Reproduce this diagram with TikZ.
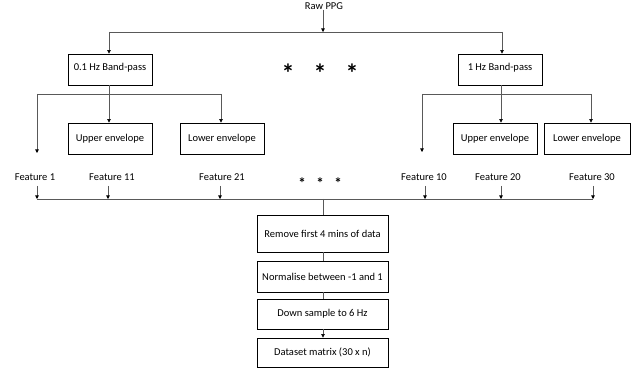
\documentclass[tikz,border=0pt]{standalone}
\usepackage{fontspec}
\setmainfont{Carlito}
\usetikzlibrary{arrows.meta,calc}
\begin{document}
\begin{tikzpicture}[x=1pt,y=-1pt,
  font=\fontsize{10.5}{12}\selectfont,
  box/.style={draw=black, line width=0.8pt, minimum width=84pt, minimum height=31pt, inner sep=1pt},
  pbox/.style={draw=black, line width=0.8pt, minimum width=131pt, inner sep=1pt},
  ln/.style={draw=gray!70!black, line width=0.6pt},
  arr/.style={ln, -{Triangle[length=3.5pt,width=3.5pt,fill=black,color=black]}},
  lbl/.style={inner sep=0pt},
  bigstar/.style={inner sep=0pt, font=\fontsize{26}{26}\selectfont\bfseries},
  smallstar/.style={inner sep=0pt, font=\fontsize{15}{15}\selectfont\bfseries}]
\useasboundingbox (0,0) rectangle (640,374);

% top
\node[lbl] (raw) at (324,6) {Raw PPG};
\coordinate (top) at (323,32);
\coordinate (topL) at (109,32);
\coordinate (topR) at (502,32);
\draw[arr] (raw.south -| top) -- (top);
\draw[ln] (topL) -- (topR);

\node[box] (bp1) at (110,69.5) {\raisebox{5pt}{0.1 Hz Band-pass}};
\node[box] (bp2) at (500,69.5) {\raisebox{5pt}{1 Hz Band-pass}};
\draw[arr] (topL) -- (topL |- bp1.north);
\draw[arr] (topR) -- (topR |- bp2.north);

\node[bigstar] (s1) at (288,73) {*};
\node[bigstar] (s2) at (320,73) {*};
\node[bigstar] (s3) at (352,73) {*};

% second level left
\coordinate (jL) at (109,94);
\coordinate (jLa) at (37,94);
\coordinate (jLb) at (221,94);
\node[box] (ue1) at (110,138.5) {Upper envelope};
\node[box] (le1) at (222,138.5) {Lower envelope};
\coordinate (f1end) at (37,153);
\draw[ln] (bp1.south -| jL) -- (jL);
\draw[ln] (jLa) -- (jLb);
\draw[arr] (jLa) -- (f1end);
\draw[arr] (jL) -- (jL |- ue1.north);
\draw[arr] (jLb) -- (jLb |- le1.north);

% second level right
\coordinate (jR) at (501,94);
\coordinate (jRa) at (422,94);
\coordinate (jRb) at (591,94);
\node[box] (ue2) at (495,138.5) {Upper envelope};
\node[box, minimum width=86pt] (le2) at (587,138.5) {Lower envelope};
\coordinate (f10end) at (422,152);
\draw[ln] (bp2.south -| jR) -- (jR);
\draw[ln] (jRa) -- (jRb);
\draw[arr] (jRa) -- (f10end);
\draw[arr] (jR) -- (jR |- ue2.north);
\draw[arr] (jRb) -- (jRb |- le2.north);

% features
\node[lbl] (f1) at (35,177) {Feature 1};
\node[lbl] (f11) at (112,177) {Feature 11};
\node[lbl] (f21) at (222,177) {Feature 21};
\node[lbl] (f10) at (424,177) {Feature 10};
\node[lbl] (f20) at (498,177) {Feature 20};
\node[lbl] (f30) at (592,177) {Feature 30};
\node[smallstar] (t1) at (302,183) {*};
\node[smallstar] (t2) at (320,183) {*};
\node[smallstar] (t3) at (338,183) {*};

\coordinate (busL) at (37,199);
\coordinate (busR) at (593,199);
\coordinate (busM) at (323,199);
\draw[ln] (busL) -- (busR);
\foreach \n/\x in {f1/37,f11/108,f21/220,f10/425,f20/501,f30/593}{
  \draw[arr] (\x,186) -- (\x,199);
}

% processing chain
\node[pbox, minimum height=37pt] (rm) at (322.5,233.5) {Remove first 4 mins of data};
\node[pbox, minimum height=31pt] (nm) at (322.5,276.5) {Normalise between -1 and 1};
\node[pbox, minimum height=30pt] (ds) at (322.5,314) {Down sample to 6 Hz};
\node[pbox, minimum height=29pt] (dm) at (322.5,352.5) {Dataset matrix (30 x n)};
\draw[ln] (busM) -- (busM |- rm.north);
\draw[ln] (rm.south -| busM) -- (nm.north -| busM);
\draw[ln] (nm.south -| busM) -- (ds.north -| busM);
\draw[arr] (ds.south -| busM) -- (dm.north -| busM);
\end{tikzpicture}
\end{document}
